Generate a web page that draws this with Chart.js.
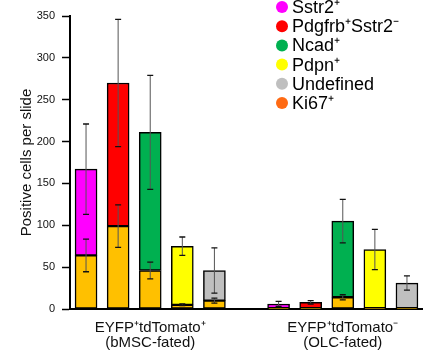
<!DOCTYPE html>
<html>
<head>
<meta charset="utf-8">
<script src="https://cdn.jsdelivr.net/npm/chart.js@4/dist/chart.umd.min.js"></script>
<style>
body{margin:0;background:#fff}
#wrap{width:423px;height:351px}
</style>
</head>
<body>
<div id="wrap"><canvas id="chart" width="423" height="351"></canvas></div>
<script>
// slots: 5 bars for each group, one empty slot between
const categories = ["", "", ["EYFP⁺tdTomato⁺", "(bMSC-fated)"], "", "", "", "", "", ["EYFP⁺tdTomato⁻", "(OLC-fated)"], "", ""]

// Ki67+ part at the bottom of every bar
const ki67 = [64, 99, 46, 5, 10, null, 1, 1, 14, 1, 1]
const ki67Err = [19.5, 25.5, 10, 1, 3, null, 0, 0, 3, 0, 0]

// marker part stacked on top
const sstr2 = [103, null, null, null, null, null, 5, null, null, null, null]
const pdgfrb = [null, 171, null, null, null, null, null, 7, null, null, null]
const ncad = [null, null, 165, null, null, null, null, null, 91, null, null]
const pdpn = [null, null, null, 70, null, null, null, null, null, 70, null]
const undefinedCells = [null, null, null, null, 36, null, null, null, null, null, 30]

// error on the bar total
const totalErr = [54, 76, 68, 11, 27, null, 3, 2, 26, 24, 8.5]

const legendLabels = ["Sstr2⁺", "Pdgfrb⁺Sstr2⁻", "Ncad⁺", "Pdpn⁺", "Undefined", "Ki67⁺"]
const legendColors = ["#FF00FF", "#FF0000", "#00B050", "#FFFF00", "#BFBFBF", "#FF6A13"]

const FONT = "'Liberation Sans', Arial, sans-serif"

function ds(label, data, color){
return {
label: label,
data: data,
backgroundColor: color,
borderColor: "#000",
borderWidth: 1.5,
borderSkipped: false,
barThickness: 22
}
}

// error bars drawn over the bars
const errorBars = {
id: "errorBars",
afterDatasetsDraw(chart){
let ctx = chart.ctx
let y = chart.scales.y
let x = chart.scales.x
let tops = [sstr2, pdgfrb, ncad, pdpn, undefinedCells]

ctx.save()
for(let i = 0; i < categories.length; i++){
if(ki67[i] == null) continue
let cx = x.getPixelForValue(i)
let top = ki67[i]
tops.forEach(s => { if(s[i] != null) top += s[i] })

let bars = [[top, totalErr[i]], [ki67[i], ki67Err[i]]]
bars.forEach(b => {
if(!b[1]) return
let y1 = y.getPixelForValue(b[0] + b[1])
let y2 = y.getPixelForValue(b[0] - b[1])
ctx.strokeStyle = "#555"
ctx.lineWidth = 1
ctx.beginPath()
ctx.moveTo(cx, y1)
ctx.lineTo(cx, y2)
ctx.stroke()
ctx.strokeStyle = "#111"
ctx.lineWidth = 1.3
ctx.beginPath()
ctx.moveTo(cx - 3, y1); ctx.lineTo(cx + 3, y1)
ctx.moveTo(cx - 3, y2); ctx.lineTo(cx + 3, y2)
ctx.stroke()
})
}
ctx.restore()
}
}

// legend in the top right corner
const dotLegend = {
id: "dotLegend",
afterDraw(chart){
let ctx = chart.ctx
ctx.save()
ctx.font = "18px " + FONT
ctx.textBaseline = "middle"
ctx.textAlign = "left"
legendLabels.forEach((t, i) => {
let yy = 7 + i * 19.2
ctx.fillStyle = legendColors[i]
ctx.beginPath()
ctx.arc(282, yy, 6, 0, Math.PI * 2)
ctx.fill()
ctx.fillStyle = "#000"
ctx.fillText(t, 292, yy + 1)
})
ctx.restore()
}
}

new Chart(document.getElementById("chart").getContext("2d"), {
type: "bar",
data: {
labels: categories,
datasets: [
ds("Ki67⁺", ki67, "#FFC000"),
ds("Sstr2⁺", sstr2, "#FF00FF"),
ds("Pdgfrb⁺Sstr2⁻", pdgfrb, "#FF0000"),
ds("Ncad⁺", ncad, "#00B050"),
ds("Pdpn⁺", pdpn, "#FFFF00"),
ds("Undefined", undefinedCells, "#BFBFBF")
]
},
options: {
responsive: false,
animation: false,
layout: { padding: { top: 16, right: 0, left: 0, bottom: 0 } },
plugins: {
legend: { display: false },
tooltip: { enabled: false }
},
scales: {
x: {
stacked: true,
grid: { display: false },
border: { color: "#000", width: 2 },
ticks: {
autoSkip: false,
maxRotation: 0,
padding: 3,
color: "#111",
font: { family: FONT, size: 15, lineHeight: 1.02 }
},
afterFit: s => { s.height = 42 }
},
y: {
stacked: true,
min: 0,
max: 350,
ticks: {
stepSize: 50,
padding: 7,
color: "#111",
font: { family: FONT, size: 11 }
},
grid: {
drawOnChartArea: false,
drawTicks: true,
tickLength: 8,
tickColor: "#000",
tickWidth: 1.5
},
border: { color: "#000", width: 2 },
title: {
display: true,
text: "Positive cells per slide",
color: "#111",
font: { family: FONT, size: 15 },
padding: { top: 18, bottom: 0 }
},
afterFit: s => { s.width = 70 }
}
}
},
plugins: [errorBars, dotLegend]
})
</script>
</body>
</html>
